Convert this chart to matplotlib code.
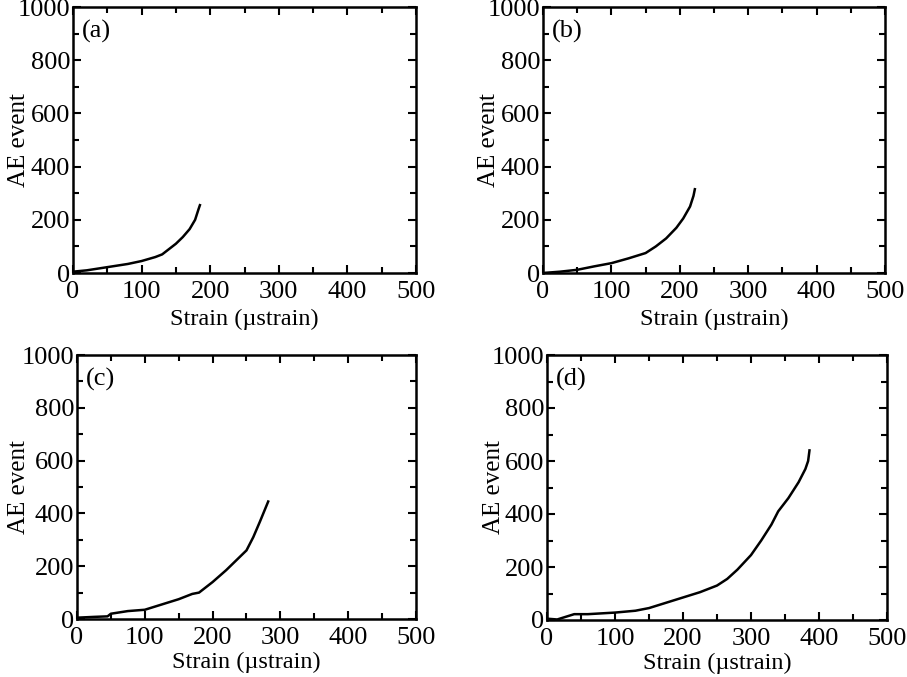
import numpy as np
import matplotlib
matplotlib.use("Agg")
import matplotlib.pyplot as plt
from matplotlib.ticker import MultipleLocator

plt.rcParams['font.family'] = ['Liberation Serif', 'DejaVu Serif']

# --- data ---
strain_a = [0, 20, 40, 60, 80, 100, 120, 130, 140, 150, 160, 170, 178, 183, 185]
event_a = [5, 10, 18, 26, 34, 45, 60, 70, 90, 110, 135, 165, 200, 240, 255]

strain_b = [0, 25, 50, 75, 100, 125, 150, 165, 180, 195, 205, 215, 220, 222]
event_b = [0, 5, 12, 25, 37, 55, 75, 100, 130, 170, 205, 250, 290, 315]

strain_c = [0, 25, 45, 50, 75, 100, 125, 150, 170, 180, 200, 220, 240, 250, 260, 270, 278, 282]
event_c = [5, 8, 10, 20, 30, 35, 55, 75, 95, 100, 140, 185, 235, 260, 310, 370, 420, 445]

strain_d = [0, 15, 25, 40, 60, 80, 100, 130, 150, 175, 200, 225, 250, 265, 280, 300,
            315, 330, 340, 355, 370, 380, 384, 386]
event_d = [5, 2, 10, 22, 22, 25, 28, 35, 45, 65, 85, 105, 130, 155, 190, 245,
           300, 360, 410, 460, 520, 570, 600, 640]

panels = [("(a)", strain_a, event_a), ("(b)", strain_b, event_b),
          ("(c)", strain_c, event_c), ("(d)", strain_d, event_d)]

# axes boxes in pixels (left, top, right, bottom) on a 907x677 canvas
W, H = 907, 677
boxes = [(73, 7, 416, 273), (543, 7, 885, 273),
         (77, 355, 416, 619), (547, 355, 887, 620)]
ylab_x = [-0.125, -0.125, -0.138, -0.123]
xlab_y = [-0.135, -0.135, -0.125, -0.125]

fig = plt.figure(figsize=(9.07, 6.77), dpi=100)

for (tag, x, y), (l, t, r, b), yl, xl in zip(panels, boxes, ylab_x, xlab_y):
    ax = fig.add_axes([l / W, 1 - b / H, (r - l) / W, (b - t) / H])
    ax.plot(x, y, color="black", lw=1.8)
    ax.set_xlim(0, 500)
    ax.set_ylim(0, 1000)
    ax.xaxis.set_major_locator(MultipleLocator(100))
    ax.xaxis.set_minor_locator(MultipleLocator(50))
    ax.yaxis.set_major_locator(MultipleLocator(200))
    ax.yaxis.set_minor_locator(MultipleLocator(100))
    ax.tick_params(which="both", direction="in", top=True, right=True,
                   width=1.5, labelsize=19)
    ax.tick_params(axis="x", pad=6)
    ax.tick_params(axis="y", pad=2)
    ax.tick_params(which="major", length=6)
    ax.tick_params(which="minor", length=4)
    for s in ax.spines.values():
        s.set_linewidth(1.8)
    ax.set_xlabel("Strain (\u00b5strain)", fontsize=17.5)
    ax.xaxis.set_label_coords(0.5, xl)
    ax.set_ylabel("AE event", fontsize=18)
    ax.yaxis.set_label_coords(yl, 0.5)
    ax.text(0.025, 0.95, tag, transform=ax.transAxes, fontsize=19,
            va="top", ha="left")

fig.savefig("out.png", dpi=100)
